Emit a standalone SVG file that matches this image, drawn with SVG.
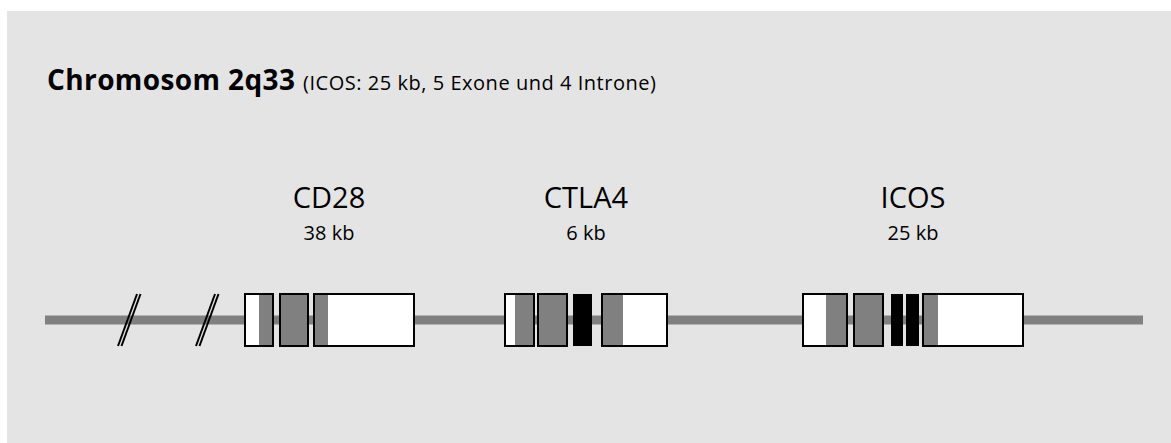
<svg xmlns="http://www.w3.org/2000/svg" width="1171" height="443" viewBox="0 0 1171 443">
  <style>
    .bg { fill: #e4e4e4; }
    .strand { stroke: #808080; stroke-width: 9; }
    .exon { fill: #ffffff; }
    .utr { fill: #808080; }
    .coding { fill: #000000; }
    .frame { fill: none; stroke: #000000; stroke-width: 2; }
    .cut { stroke: #000000; stroke-width: 2; }
    text { font-family: "Open Sans", "Liberation Sans", sans-serif; fill: #000000; }
    .title { font-size: 28px; font-weight: bold; }
    .sub { font-size: 20px; font-weight: normal; }
    .gene { font-size: 29px; text-anchor: middle; }
    .size { font-size: 20px; text-anchor: middle; }
  </style>

  <rect class="bg" x="7" y="11" width="1164" height="432"/>

  <text class="title" x="47" y="90" textLength="248" lengthAdjust="spacing">Chromosom 2q33</text>
  <text class="sub" x="303" y="90" textLength="353" lengthAdjust="spacing">(ICOS: 25 kb, 5 Exone und 4 Introne)</text>

  <!-- chromosome strand with break marks -->
  <g id="connectors">
    <line class="strand" x1="45" y1="320" x2="1143" y2="320"/>
    <g id="break1">
      <line class="cut" x1="118" y1="346" x2="137" y2="294"/>
      <line class="cut" x1="121.5" y1="346" x2="140.5" y2="294"/>
    </g>
    <g id="break2">
      <line class="cut" x1="196" y1="346" x2="215" y2="294"/>
      <line class="cut" x1="199.5" y1="346" x2="218.5" y2="294"/>
    </g>
  </g>

  <!-- CD28 -->
  <g id="cd28">
    <text class="gene" x="329" y="208">CD28</text>
    <text class="size" x="329" y="240">38 kb</text>
    <rect class="exon" x="245" y="294" width="28" height="52"/>
    <rect class="utr" x="259" y="294" width="14" height="52"/>
    <rect class="frame" x="245" y="294" width="28" height="52"/>
    <rect class="utr" x="280" y="294" width="28" height="52"/>
    <rect class="frame" x="280" y="294" width="28" height="52"/>
    <rect class="exon" x="314" y="294" width="100" height="52"/>
    <rect class="utr" x="314" y="294" width="14" height="52"/>
    <rect class="frame" x="314" y="294" width="100" height="52"/>
  </g>

  <!-- CTLA4 -->
  <g id="ctla4">
    <text class="gene" x="586" y="208">CTLA4</text>
    <text class="size" x="586" y="240">6 kb</text>
    <rect class="exon" x="505" y="294" width="29" height="52"/>
    <rect class="utr" x="515" y="294" width="19" height="52"/>
    <rect class="frame" x="505" y="294" width="29" height="52"/>
    <rect class="utr" x="538" y="294" width="29" height="52"/>
    <rect class="frame" x="538" y="294" width="29" height="52"/>
    <rect class="coding" x="573" y="294" width="19" height="52"/>
    <rect class="exon" x="602" y="294" width="65" height="52"/>
    <rect class="utr" x="602" y="294" width="21" height="52"/>
    <rect class="frame" x="602" y="294" width="65" height="52"/>
  </g>

  <!-- ICOS -->
  <g id="icos">
    <text class="gene" x="913" y="208">ICOS</text>
    <text class="size" x="913" y="240">25 kb</text>
    <rect class="exon" x="803" y="294" width="44" height="52"/>
    <rect class="utr" x="826" y="294" width="21" height="52"/>
    <rect class="frame" x="803" y="294" width="44" height="52"/>
    <rect class="utr" x="854" y="294" width="29" height="52"/>
    <rect class="frame" x="854" y="294" width="29" height="52"/>
    <rect class="coding" x="891" y="294" width="12" height="52"/>
    <rect class="coding" x="906" y="294" width="13" height="52"/>
    <rect class="exon" x="923" y="294" width="100" height="52"/>
    <rect class="utr" x="923" y="294" width="15" height="52"/>
    <rect class="frame" x="923" y="294" width="100" height="52"/>
  </g>
</svg>
